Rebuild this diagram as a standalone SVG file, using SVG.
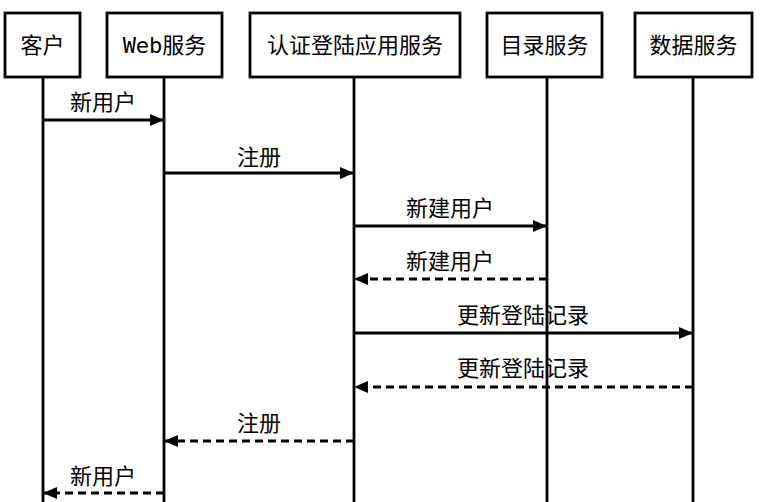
<svg xmlns="http://www.w3.org/2000/svg" width="761" height="502" viewBox="0 0 761 502">
<style>
.box{fill:#fff;stroke:#000;stroke-width:2.8}
.life{stroke:#000;stroke-width:2.8}
.msg{stroke:#000;stroke-width:2.8;fill:none}
.dash{stroke-dasharray:8 5}
.t{font-family:"Noto Sans CJK SC","DejaVu Sans",sans-serif;font-size:22px;fill:#000;text-anchor:middle}
.m{font-family:"DejaVu Sans Mono","Noto Sans CJK SC",monospace}
</style>
<defs>
<marker id="ah" viewBox="0 0 14 12" refX="14" refY="6" markerWidth="14" markerHeight="12" markerUnits="userSpaceOnUse" orient="auto">
<path d="M0,0 L14,6 L0,12 Z" fill="#000"/>
</marker>
</defs>
<rect width="761" height="502" fill="#fff"/>
<g id="lifelines">
<line class="life" x1="43" y1="77" x2="43" y2="502"/>
<line class="life" x1="164" y1="77" x2="164" y2="502"/>
<line class="life" x1="354" y1="77" x2="354" y2="502"/>
<line class="life" x1="547" y1="77" x2="547" y2="502"/>
<line class="life" x1="693" y1="77" x2="693" y2="502"/>
</g>
<g id="n-client"><rect class="box" x="5" y="13" width="75" height="64"/><text class="t" x="42.5" y="53">客户</text></g>
<g id="n-web"><rect class="box" x="107" y="13" width="115" height="64"/><text class="t m" x="164.5" y="53">Web服务</text></g>
<g id="n-auth"><rect class="box" x="250" y="13" width="210" height="64"/><text class="t" x="355" y="53">认证登陆应用服务</text></g>
<g id="n-dir"><rect class="box" x="487" y="13" width="115" height="64"/><text class="t" x="544.5" y="53">目录服务</text></g>
<g id="n-data"><rect class="box" x="635" y="13" width="117" height="64"/><text class="t" x="693.5" y="53">数据服务</text></g>
<g id="connectors">
<line class="msg" x1="43" y1="120" x2="164" y2="120" marker-end="url(#ah)"/>
<text class="t" x="103" y="110">新用户</text>
<line class="msg" x1="164" y1="173" x2="354" y2="173" marker-end="url(#ah)"/>
<text class="t" x="259" y="165">注册</text>
<line class="msg" x1="354" y1="226" x2="547" y2="226" marker-end="url(#ah)"/>
<text class="t" x="450" y="216">新建用户</text>
<line class="msg dash" x1="547" y1="279" x2="354" y2="279" marker-end="url(#ah)"/>
<text class="t" x="450" y="269">新建用户</text>
<line class="msg" x1="354" y1="333" x2="693" y2="333" marker-end="url(#ah)"/>
<text class="t" x="523" y="323">更新登陆记录</text>
<line class="msg dash" x1="693" y1="387" x2="354" y2="387" marker-end="url(#ah)"/>
<text class="t" x="523" y="376">更新登陆记录</text>
<line class="msg dash" x1="354" y1="441" x2="164" y2="441" marker-end="url(#ah)"/>
<text class="t" x="259" y="431">注册</text>
<line class="msg dash" x1="164" y1="493" x2="43" y2="493" marker-end="url(#ah)"/>
<text class="t" x="103" y="484">新用户</text>
</g>
</svg>
